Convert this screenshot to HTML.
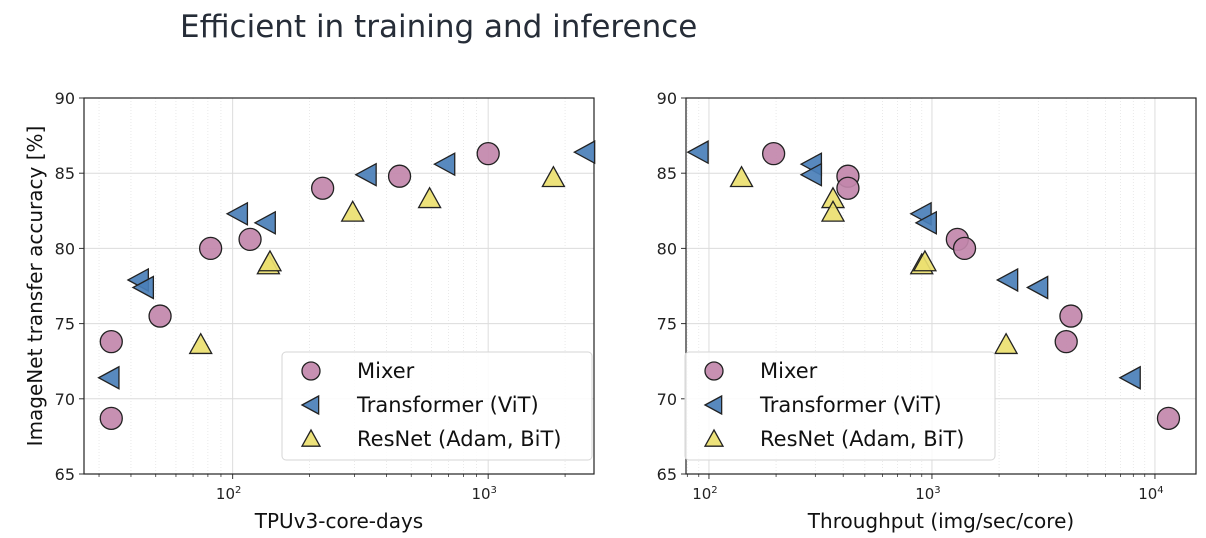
<!DOCTYPE html>
<html><head><meta charset="utf-8"><style>
html,body{margin:0;padding:0;background:#fff;width:1206px;height:538px;overflow:hidden}
svg text{font-family:"DejaVu Sans","Liberation Sans",sans-serif}
</style></head><body>
<svg id="c" width="1206" height="538" viewBox="0 0 1206 538" xmlns="http://www.w3.org/2000/svg">
<text x="180" y="37" font-size="31" fill="#262d38" font-family="Liberation Sans, sans-serif">Efficient in training and inference</text>
</svg>
<script>
const yTicks=[65,70,75,80,85,90];
const seriesNames=["Mixer","Transformer (ViT)","ResNet (Adam, BiT)"];
const leftMixerX=[33.5,33.5,52,82,117,225,450,1000];
const leftMixerY=[73.8,68.7,75.5,80,80.6,84,84.8,86.3];
const leftVitX=[33,43,45,105,135,335,680,2400];
const leftVitY=[71.4,77.9,77.4,82.3,81.7,84.9,85.6,86.4];
const leftResX=[75,138,140,295,590,1800];
const leftResY=[73.6,78.9,79.1,82.4,83.3,84.7];
const rightMixerX=[195,420,420,1300,1400,4200,4000,11500];
const rightMixerY=[86.3,84.8,84,80.6,80,75.5,73.8,68.7];
const rightVitX=[90,290,290,900,950,2200,3000,7800];
const rightVitY=[86.4,85.6,84.9,82.3,81.7,77.9,77.4,71.4];
const rightResX=[140,360,360,900,930,2150];
const rightResY=[84.7,83.3,82.4,78.9,79.1,73.6];
const leftXTicks=[100,1000];
const rightXTicks=[100,1000,10000];

const NS="http://www.w3.org/2000/svg";
const svg=document.getElementById('c');
function mk(t,a,p){const e=document.createElementNS(NS,t);for(const k in a)e.setAttribute(k,a[k]);(p||svg).appendChild(e);return e;}
const colors=["#c287ab","#4a7fb8","#ece070"];

function panel(id,x0,x1,lo,hi,xticks,sets,xlabel,ylabelOn,legX){
  const top=98,bot=474;
  const g=mk('g',{});
  
  
  const lx=v=>x0+(Math.log10(v)-Math.log10(lo))/(Math.log10(hi)-Math.log10(lo))*(x1-x0);
  const ly=v=>bot-(v-65)/25*(bot-top);
  for(let d=Math.floor(Math.log10(lo));d<=Math.ceil(Math.log10(hi));d++){
    for(let m=2;m<=9;m++){const v=m*Math.pow(10,d);if(v<lo||v>hi)continue;const X=lx(v);
      mk('line',{x1:X,x2:X,y1:top,y2:bot,stroke:'#e4e4e4','stroke-width':0.8,'stroke-dasharray':'1,2'},g);
      mk('line',{x1:X,x2:X,y1:bot,y2:bot+3,stroke:'#333','stroke-width':0.8},g);}
  }
  yTicks.forEach(t=>{const Y=ly(t);
    const l=mk('line',{x1:x0,x2:x1,y1:Y,y2:Y,stroke:'#dcdcdc','stroke-width':1},g);
    
    mk('line',{x1:x0-5,x2:x0,y1:Y,y2:Y,stroke:'#333'},g);
    const tx=mk('text',{x:x0-9,y:Y+6,'text-anchor':'end','font-size':16,fill:'#222'},g);tx.textContent=t;
    });
  xticks.forEach(t=>{const X=lx(t);
    mk('line',{x1:X,x2:X,y1:top,y2:bot,stroke:'#dcdcdc','stroke-width':1},g);
    mk('line',{x1:X,x2:X,y1:bot,y2:bot+5,stroke:'#333'},g);
    const tx=mk('text',{x:X-4,y:bot+25,'text-anchor':'middle','font-size':15,fill:'#222'},g);
    tx.textContent='10';const s=mk('tspan',{dy:-6,'font-size':10},tx);s.textContent=Math.round(Math.log10(t));
    });
  const fr=mk('rect',{x:x0,y:top,width:x1-x0,height:bot-top,fill:'none',stroke:'#222','stroke-width':1.2},g);
  
  const xl=mk('text',{x:(x0+x1)/2,y:528,'text-anchor':'middle','font-size':20,fill:'#111'},g);xl.textContent=xlabel;
  
  if(ylabelOn){const yl=mk('text',{x:0,y:0,transform:`translate(42,${(top+bot)/2}) rotate(-90)`,'text-anchor':'middle','font-size':20,fill:'#111'},g);
    yl.textContent='ImageNet transfer accuracy [%]';}
  function marker(k,X,Y,r,parent){
    let e;
    if(k===0)e=mk('circle',{cx:X,cy:Y,r:r},parent);
    else if(k===1)e=mk('polygon',{points:`${X-r},${Y} ${X+r*0.85},${Y-r} ${X+r*0.85},${Y+r}`},parent);
    else e=mk('polygon',{points:`${X},${Y-r} ${X+r},${Y+r*0.8} ${X-r},${Y+r*0.8}`},parent);
    e.setAttribute('fill',colors[k]);e.setAttribute('stroke','#222');e.setAttribute('stroke-width',1.3);e.setAttribute('fill-opacity',0.92);
    return e;
  }
  sets.forEach((s,k)=>{s[0].forEach((v,i)=>{const m=marker(k,lx(v),ly(s[1][i]),11,g);
    });});
  const lg=mk('g',{},g);
  mk('rect',{x:legX,y:352,width:310,height:108,rx:4,fill:'#fff','fill-opacity':0.85,stroke:'#d6d6d6'},lg);
  seriesNames.forEach((n,k)=>{const Y=371+k*34;
    const m=marker(k,legX+29,Y,9,lg);
    const t=mk('text',{x:legX+75,y:Y+7,'font-size':21,fill:'#111'},lg);t.textContent=n;
    });
}
panel('left-panel',84,594,26.2,2595,leftXTicks,[[leftMixerX,leftMixerY],[leftVitX,leftVitY],[leftResX,leftResY]],'TPUv3-core-days',true,282);
panel('right-panel',686,1196,78.9,15280,rightXTicks,[[rightMixerX,rightMixerY],[rightVitX,rightVitY],[rightResX,rightResY]],'Throughput (img/sec/core)',false,685);
</script>
</body></html>
